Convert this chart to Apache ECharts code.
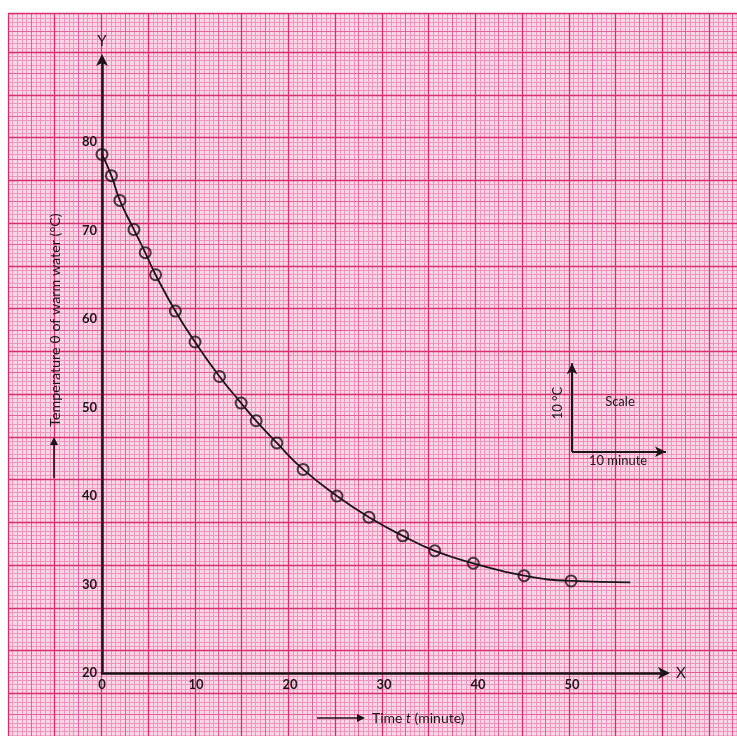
<!DOCTYPE html>
<html><head><meta charset="utf-8">
<script src="https://cdn.jsdelivr.net/npm/echarts@6/dist/echarts.min.js"></script>
<style>html,body{margin:0;padding:0;background:#fff}#c{width:737px;height:736px}</style>
</head><body><div id="c"></div>
<script>
// ---- data ----
const times = [0, 1, 1.9, 3.4, 4.6, 5.7, 7.8, 9.9, 12.5, 14.8, 16.4, 18.6, 21.4, 25, 28.4, 32, 35.4, 39.5, 44.9, 49.9];
const temps = [78.6, 76.2, 73.4, 70.1, 67.5, 65.0, 60.9, 57.4, 53.5, 50.5, 48.5, 46.0, 43.0, 40.0, 37.6, 35.5, 33.8, 32.4, 31.0, 30.4];
const tailTimes = [56.2];
const tailTemps = [30.25];
const xTickLabels = ['0', '10', '20', '30', '40', '50'];
const yTickLabels = ['20', '30', '40', '50', '60', '70', '80'];
const scaleLegend = { t: 50, temp: 45, dt: 10, dTemp: 10 };

// ---- layout ----
const PX_X = 9.4, PX_Y = 8.85, X0 = 102, Y0 = 673;
const X_MAX = 60, Y_MIN = 20, Y_MAX = 89.5;
const P_XMIN = -10, P_XMAX = 68, P_YMIN = 10, P_YMAX = 94.5;
const FONT = 'Lato';
const INK = '#1c1416';
const TXT = '#1e1618';

const points = times.map((t, i) => [t, temps[i]]);
const curve = points.concat(tailTimes.map((t, i) => [t, tailTemps[i]]));

function paperAxis(dim, interval, color, width, idx) {
  return {
    gridIndex: 0, type: 'value',
    min: dim === 'x' ? P_XMIN : P_YMIN,
    max: dim === 'x' ? P_XMAX : P_YMAX,
    interval: interval, show: true,
    axisLine: { show: false }, axisTick: { show: false }, axisLabel: { show: false },
    splitLine: { show: true, lineStyle: { color: color, width: width } },
    z: idx
  };
}

const chart = echarts.init(document.getElementById('c'), null, { renderer: 'canvas' });
const option = {
  backgroundColor: '#ffffff',
  animation: false,
  grid: [
    { left: X0 + P_XMIN * PX_X, top: Y0 - (P_YMAX - Y_MIN) * PX_Y,
      width: (P_XMAX - P_XMIN) * PX_X, height: (P_YMAX - P_YMIN) * PX_Y,
      show: true, backgroundColor: '#fad6e6', borderWidth: 0 },
    { left: X0, top: Y0 - (Y_MAX - Y_MIN) * PX_Y,
      width: X_MAX * PX_X, height: (Y_MAX - Y_MIN) * PX_Y, show: false }
  ],
  xAxis: [
    paperAxis('x', 0.5, '#ef96bf', 1, 1),
    paperAxis('x', 2.5, '#e3609a', 1, 2),
    paperAxis('x', 5, '#d82e6e', 1.3, 3),
    {
      gridIndex: 1, type: 'value', min: 0, max: X_MAX, interval: 10,
      axisLine: { show: true, onZero: false, lineStyle: { color: INK, width: 2.5 },
        symbol: ['none', 'arrow'], symbolSize: [9, 12], symbolOffset: [0, 4] },
      axisTick: { show: false }, splitLine: { show: false },
      axisLabel: { show: true, margin: 5, fontSize: 13, fontWeight: 'bold', fontFamily: FONT, color: TXT,
        showMaxLabel: false, formatter: v => { const i = Math.round(v / 10); return xTickLabels[i] !== undefined && v % 10 === 0 ? xTickLabels[i] : ''; } },
      name: 'X', nameLocation: 'end', nameGap: 10,
      nameTextStyle: { fontSize: 15, fontFamily: FONT, color: TXT }, z: 10
    }
  ],
  yAxis: [
    paperAxis('y', 0.5, '#ef96bf', 1, 1),
    paperAxis('y', 2.5, '#e3609a', 1, 2),
    paperAxis('y', 5, '#d82e6e', 1.3, 3),
    {
      gridIndex: 1, type: 'value', min: Y_MIN, max: Y_MAX, interval: 10,
      axisLine: { show: true, onZero: false, lineStyle: { color: INK, width: 2.5 },
        symbol: ['none', 'arrow'], symbolSize: [9, 12], symbolOffset: [0, 4] },
      axisTick: { show: false }, splitLine: { show: false },
      axisLabel: { show: true, margin: 5, fontSize: 13, fontWeight: 'bold', fontFamily: FONT, color: TXT,
        showMaxLabel: false, formatter: v => { const i = Math.round((v - 20) / 10); return yTickLabels[i] !== undefined && (v - 20) % 10 === 0 ? yTickLabels[i] : ''; } },
      name: 'Y', nameLocation: 'end', nameGap: 9,
      nameTextStyle: { fontSize: 15, fontFamily: FONT, color: TXT }, z: 10
    }
  ],
  series: [
    {
      type: 'line', xAxisIndex: 3, yAxisIndex: 3, data: curve,
      smooth: 0.5, showSymbol: false, symbol: 'none',
      lineStyle: { color: INK, width: 1.8 }, z: 5, silent: true
    },
    {
      type: 'scatter', xAxisIndex: 3, yAxisIndex: 3, data: points, clip: false,
      symbol: 'circle', symbolSize: 11,
      itemStyle: { color: 'rgba(0,0,0,0)', borderColor: INK, borderWidth: 2 }, z: 6,
      markLine: {
        silent: true, symbol: ['none', 'arrow'], symbolSize: [8, 11],
        lineStyle: { color: INK, width: 2, type: 'solid' }, label: { show: false },
        data: [
          [{ coord: [scaleLegend.t, scaleLegend.temp] }, { coord: [scaleLegend.t, scaleLegend.temp + scaleLegend.dTemp] }],
          [{ coord: [scaleLegend.t, scaleLegend.temp] }, { coord: [scaleLegend.t + scaleLegend.dt, scaleLegend.temp] }]
        ]
      },
      markPoint: {
        silent: true, symbol: 'circle', symbolSize: 0,
        label: { show: true, fontFamily: FONT, fontSize: 13, color: TXT },
        data: [
          { coord: [48.5, 50.5], label: { formatter: '10 °C', rotate: 90 } },
          { coord: [55.1, 50.6], label: { formatter: 'Scale' } },
          { coord: [54.9, 44.0], label: { formatter: '10 minute' } }
        ]
      }
    }
  ],
  graphic: [
    { type: 'text', x: 55, y: 320, rotation: Math.PI / 2, z: 100,
      style: { text: 'Temperature θ of warm water (°C)', font: '14.3px ' + FONT, fill: TXT, align: 'center', verticalAlign: 'middle' } },
    { type: 'line', z: 100, shape: { x1: 54, y1: 478, x2: 54, y2: 442 }, style: { stroke: INK, lineWidth: 1.6 } },
    { type: 'polygon', z: 100, shape: { points: [[54, 437], [50, 445], [58, 445]] }, style: { fill: INK } },
    { type: 'text', x: 372, y: 718, z: 100,
      style: { text: 'Time {i|t} (minute)', font: '14px ' + FONT, fill: TXT, align: 'left', verticalAlign: 'middle',
        rich: { i: { fontStyle: 'italic', fontFamily: FONT, fontSize: 14, fill: TXT } } } },
    { type: 'line', z: 100, shape: { x1: 317, y1: 718, x2: 358, y2: 718 }, style: { stroke: INK, lineWidth: 1.6 } },
    { type: 'polygon', z: 100, shape: { points: [[365, 718], [357, 714], [357, 722]] }, style: { fill: INK } }
  ]
};
chart.setOption(option);
</script>
</body></html>
